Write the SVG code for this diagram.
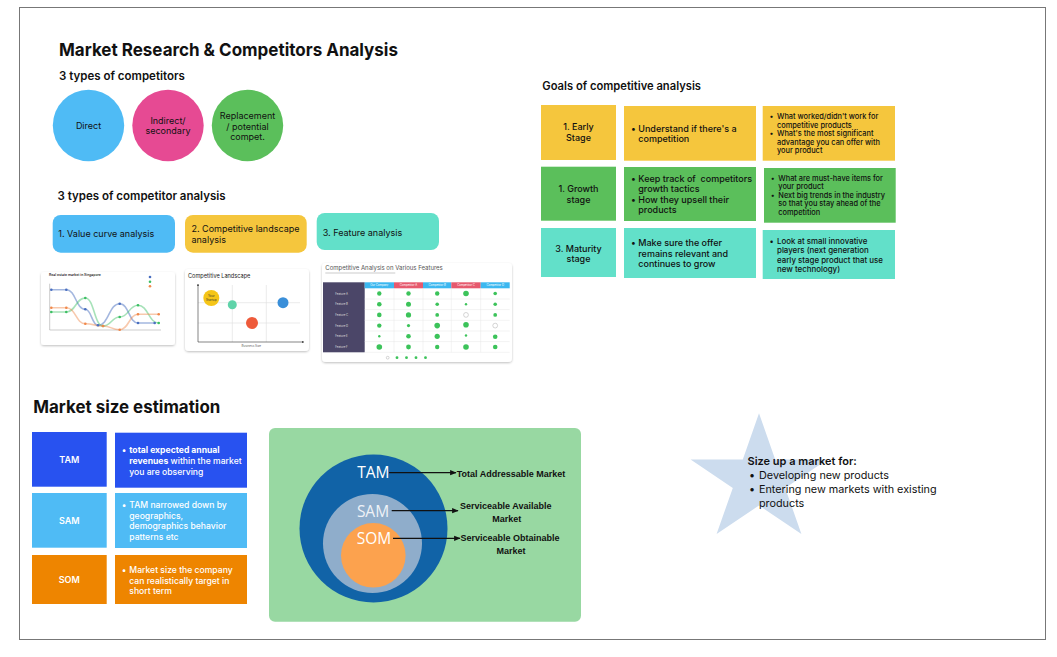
<svg xmlns="http://www.w3.org/2000/svg" width="1057" height="657" viewBox="0 0 1057 657">
<defs>
<style>
.t{font-family:Inter,"Liberation Sans",sans-serif;fill:#111}
.h1{font-size:18px;font-weight:700}
.h2{font-size:11.5px;font-weight:600}
.h3{font-size:17px;font-weight:700}
.c9{font-size:9px}
.g9{font-size:9px;font-weight:500}
.g7{font-size:7.4px;font-weight:500}
.w9{font-size:8.6px;fill:#fff;font-weight:500}
.ws{font-size:9px;fill:#fff;font-weight:600}
.mid{text-anchor:middle}
.lab{font-family:"Open Sans","Liberation Sans",sans-serif;font-size:15.5px;fill:#fff;text-anchor:middle}
.alab{font-family:"Liberation Sans",Arial,sans-serif;font-size:9px;font-weight:700;fill:#111}
.tiny{font-family:Inter,"Liberation Sans",sans-serif;font-size:3px;fill:#666}
.yel{fill:#F5C63D}.grn{fill:#5BBF5B}.teal{fill:#62E0C9}
.dot{fill:#3CC35A}
.thumb{fill:#fff;filter:url(#sh)}
.grid{stroke:#ddd;stroke-width:0.6}
.st{font-size:10.8px}
</style>
<filter id="sh" x="-10%" y="-10%" width="120%" height="130%">
<feDropShadow dx="0" dy="1" stdDeviation="1.2" flood-color="#000" flood-opacity="0.25"/>
</filter>
<marker id="ah" viewBox="0 0 10 10" refX="9" refY="5" markerWidth="5" markerHeight="5" orient="auto">
<path d="M0,1 L10,5 L0,9 z" fill="#111"/>
</marker>
<marker id="ax" viewBox="0 0 10 10" refX="9" refY="5" markerWidth="4" markerHeight="4" orient="auto">
<path d="M0,1 L10,5 L0,9 z" fill="#333"/>
</marker>
</defs>

<rect x="0" y="0" width="1057" height="657" fill="#fff"/>
<rect x="19.5" y="7.5" width="1026" height="632" fill="#fff" stroke="#777" stroke-width="1"/>

<g id="title">
<text class="t h1" x="59" y="56" textLength="339" lengthAdjust="spacingAndGlyphs">Market Research &amp; Competitors Analysis</text>
<text class="t h2" x="59" y="79.5">3 types of competitors</text>
</g>

<g id="competitors">
<g id="c-direct"><circle cx="88.5" cy="125.5" r="35.7" fill="#4FBBF5"/><text class="t c9 mid" x="88.5" y="129">Direct</text></g>
<g id="c-indirect"><circle cx="168" cy="125.5" r="35.7" fill="#E64A93"/><text class="t c9 mid" x="168" y="124">Indirect/</text><text class="t c9 mid" x="168" y="134.3">secondary</text></g>
<g id="c-replacement"><circle cx="247.5" cy="125.5" r="35.7" fill="#5BBF5B"/><text class="t c9 mid" x="247.5" y="119.3">Replacement</text><text class="t c9 mid" x="247.5" y="129.5">/ potential</text><text class="t c9 mid" x="247.5" y="140">compet.</text></g>
</g>

<g id="analysis">
<text class="t h2" x="57.5" y="199.5">3 types of competitor analysis</text>
<g id="a-value"><rect x="52.7" y="215" width="122.3" height="37.7" rx="8" fill="#4FBBF5"/><text class="t c9" x="58.3" y="236.5">1. Value curve analysis</text></g>
<g id="a-landscape"><rect x="185" y="215" width="121.7" height="37.7" rx="8" class="yel"/><text class="t c9" x="191.5" y="232">2. Competitive landscape</text><text class="t c9" x="191.5" y="243">analysis</text></g>
<g id="a-feature"><rect x="316.7" y="213" width="122.3" height="37" rx="8" class="teal"/><text class="t c9" x="322.7" y="235.5">3. Feature analysis</text></g>
</g>

<g id="thumb-value">
<rect class="thumb" x="41" y="272" width="134" height="73" rx="3"/>
<text class="tiny" x="49" y="276" style="font-weight:600;font-size:3.4px;fill:#333">Real estate market in Singapore</text>
<line x1="49.7" y1="283.7" x2="49.7" y2="330" stroke="#999" stroke-width="0.5"/>
<line x1="49.7" y1="330" x2="161" y2="330" stroke="#999" stroke-width="0.5"/>
<path d="M51.3,289.7 C58.8,289.7 58.8,289.7 66.3,289.7 C75.8,289.7 75.8,309.3 85.3,309.3 C91.7,309.3 91.7,325.3 98,325.3 C108.9,325.3 108.9,303.7 119.7,303.7 C128.9,303.7 128.9,323 138,323 C146.4,323 146.4,323 154.7,323" fill="none" stroke="#4A6FC0" stroke-opacity="0.5" stroke-width="1.6"/>
<path d="M51.3,312 C58.8,312 58.8,312 66.3,312 C75.8,312 75.8,298 85.3,298 C94.2,298 94.2,326 103,326 C111.4,326 111.4,317 119.7,317 C128.9,317 128.9,305.3 138,305.3 C148.4,305.3 148.4,323 158.7,323" fill="none" stroke="#3CBF63" stroke-opacity="0.45" stroke-width="1.6"/>
<path d="M51.3,307.7 C58.8,307.7 58.8,307.7 66.3,307.7 C75.8,307.7 75.8,323.7 85.3,323.7 C94.2,323.7 94.2,326 103,326 C111.4,326 111.4,329.7 119.7,329.7 C128.9,329.7 128.9,314.3 138,314.3 C148.4,314.3 148.4,314.3 158.7,314.3" fill="none" stroke="#F0884A" stroke-opacity="0.45" stroke-width="1.6"/>
<g fill="#4A6FC0"><circle cx="51.3" cy="289.7" r="1.3"/><circle cx="66.3" cy="289.7" r="1.3"/><circle cx="85.3" cy="309.3" r="1.3"/><circle cx="98" cy="325.3" r="1.3"/><circle cx="119.7" cy="303.7" r="1.3"/><circle cx="138" cy="323" r="1.3"/><circle cx="154.7" cy="323" r="1.3"/><circle cx="150" cy="277" r="1.3"/></g>
<g fill="#3CBF63"><circle cx="51.3" cy="312" r="1.3"/><circle cx="66.3" cy="312" r="1.3"/><circle cx="85.3" cy="298" r="1.3"/><circle cx="103" cy="326" r="1.3"/><circle cx="119.7" cy="317" r="1.3"/><circle cx="138" cy="305.3" r="1.3"/><circle cx="158.7" cy="323" r="1.3"/><circle cx="150" cy="281.7" r="1.3"/></g>
<g fill="#F0884A"><circle cx="51.3" cy="307.7" r="1.3"/><circle cx="66.3" cy="307.7" r="1.3"/><circle cx="85.3" cy="323.7" r="1.3"/><circle cx="103" cy="326" r="1.3"/><circle cx="119.7" cy="329.7" r="1.3"/><circle cx="138" cy="314.3" r="1.3"/><circle cx="158.7" cy="314.3" r="1.3"/><circle cx="150" cy="286.3" r="1.3"/></g>
</g>

<g id="thumb-landscape">
<rect class="thumb" x="185" y="269" width="124" height="82" rx="4"/>
<text class="t" x="188" y="278" style="font-size:5.6px;fill:#222">Competitive Landscape</text>
<line class="grid" x1="232.3" y1="285" x2="232.3" y2="342"/>
<line class="grid" x1="266.3" y1="285" x2="266.3" y2="342"/>
<line class="grid" x1="198" y1="302.7" x2="300" y2="302.7"/>
<line class="grid" x1="198" y1="323" x2="300" y2="323"/>
<line x1="198" y1="342" x2="198" y2="284" stroke="#333" stroke-width="0.6" marker-end="url(#ax)"/>
<line x1="198" y1="342" x2="304" y2="342" stroke="#333" stroke-width="0.6" marker-end="url(#ax)"/>
<circle cx="211.3" cy="298" r="8" fill="#F5C518"/>
<text class="tiny mid" x="211.3" y="297" style="fill:#333">Your</text><text class="tiny mid" x="211.3" y="300.5" style="fill:#333">Startup</text>
<circle cx="232.3" cy="304.7" r="4.5" fill="#5FD3A9"/>
<circle cx="283" cy="302.7" r="5.5" fill="#3A8FD9"/>
<circle cx="252" cy="323" r="6" fill="#EE5A3A"/>
<text class="tiny mid" x="251.3" y="347">Business Size</text>
</g>

<g id="thumb-feature">
<rect class="thumb" x="322" y="263" width="190" height="99" rx="4"/>
<text class="t" x="325.3" y="270" style="font-size:6px;fill:#555">Competitive Analysis on Various Features</text>
<rect x="325.3" y="272.5" width="70" height="1" fill="#ccc"/>
<rect x="323" y="282.3" width="41.7" height="70" fill="#4B4668"/>
<rect x="364.7" y="282.3" width="29.3" height="6" fill="#3CB8F0"/>
<rect x="394" y="282.3" width="29" height="6" fill="#E65A6E"/>
<rect x="423" y="282.3" width="28.3" height="6" fill="#3CB8F0"/>
<rect x="451.3" y="282.3" width="29.4" height="6" fill="#E65A6E"/>
<rect x="480.7" y="282.3" width="29" height="6" fill="#3CB8F0"/>
<g class="tiny mid" style="fill:#fff;font-size:2.8px">
<text x="379.3" y="286.3">Our Company</text><text x="408.5" y="286.3">Competitor A</text><text x="437.2" y="286.3">Competitor B</text><text x="466" y="286.3">Competitor C</text><text x="495.2" y="286.3">Competitor D</text>
</g>
<g stroke="#e6e6e6" stroke-width="0.5">
<line x1="364.7" y1="299" x2="509.7" y2="299"/><line x1="364.7" y1="309.6" x2="509.7" y2="309.6"/><line x1="364.7" y1="320.3" x2="509.7" y2="320.3"/><line x1="364.7" y1="331" x2="509.7" y2="331"/><line x1="364.7" y1="341.6" x2="509.7" y2="341.6"/><line x1="364.7" y1="352.3" x2="509.7" y2="352.3"/>
<line x1="394" y1="288.3" x2="394" y2="352.3"/><line x1="423" y1="288.3" x2="423" y2="352.3"/><line x1="451.3" y1="288.3" x2="451.3" y2="352.3"/><line x1="480.7" y1="288.3" x2="480.7" y2="352.3"/>
</g>
<g class="tiny" style="fill:#ddd;font-size:2.8px">
<text x="335.3" y="294.5">Feature A</text><text x="335.3" y="305.2">Feature B</text><text x="335.3" y="315.9">Feature C</text><text x="335.3" y="326.6">Feature D</text><text x="335.3" y="337.3">Feature E</text><text x="335.3" y="348">Feature F</text>
</g>
<g class="dot">
<circle cx="379.3" cy="293.5" r="2.2"/><circle cx="408.5" cy="293.5" r="2.2"/><circle cx="437.2" cy="293.5" r="2.2"/><circle cx="466" cy="293.5" r="2.8"/><circle cx="495.2" cy="293.5" r="1.8"/>
<circle cx="379.3" cy="304.2" r="2.3"/><circle cx="408.5" cy="304.2" r="2.5"/><circle cx="437.2" cy="304.2" r="1.8"/><circle cx="466" cy="304.2" r="1.2"/><circle cx="495.2" cy="304.2" r="1.8"/>
<circle cx="379.3" cy="314.9" r="2.3"/><circle cx="408.5" cy="314.9" r="2.6"/><circle cx="437.2" cy="314.9" r="1.9"/><circle cx="495.2" cy="314.9" r="1.9"/>
<circle cx="379.3" cy="325.6" r="2.2"/><circle cx="408.5" cy="325.6" r="1.6"/><circle cx="437.2" cy="325.6" r="2.8"/><circle cx="466" cy="324.8" r="2.8"/>
<circle cx="379.3" cy="336.3" r="1.2"/><circle cx="408.5" cy="336.3" r="2.3"/><circle cx="437.2" cy="336.3" r="2.6"/><circle cx="466" cy="335.5" r="1.2"/><circle cx="495.2" cy="336.8" r="2.3"/>
<circle cx="379.3" cy="347" r="2.8"/><circle cx="408.5" cy="347" r="2.4"/><circle cx="437.2" cy="347" r="2.2"/><circle cx="466" cy="347" r="2.8"/><circle cx="495.2" cy="347" r="2.3"/>
</g>
<g fill="none" stroke="#aaa" stroke-width="0.5"><circle cx="466" cy="314.9" r="2.4"/><circle cx="495.2" cy="325.6" r="2.4"/><circle cx="387.7" cy="357.7" r="1.4"/></g>
<g class="dot"><circle cx="397" cy="357.7" r="1.4"/><circle cx="406.5" cy="357.7" r="1.4"/><circle cx="416" cy="357.7" r="1.4"/><circle cx="425.5" cy="357.7" r="1.4"/></g>
</g>

<g id="goals">
<text class="t h2" x="542.3" y="90" style="font-size:11.2px">Goals of competitive analysis</text>
<g id="r1c1"><rect x="541" y="105" width="75" height="55" class="yel"/><text class="t g9 mid" x="578.5" y="130">1. Early</text><text class="t g9 mid" x="578.5" y="141">Stage</text></g>
<g id="r1c2"><rect x="624" y="106" width="132" height="54.7" class="yel"/><text class="t g9" x="631" y="131.5">•</text><text class="t g9" x="638.3" y="131.5">Understand if there's a</text><text class="t g9" x="638.3" y="142">competition</text></g>
<g id="r1c3"><rect x="762.7" y="106" width="132.3" height="54.7" class="yel"/>
<text class="t g7" x="769.5" y="119">•</text><text class="t g7" x="777" y="119">What worked/didn't work for</text><text class="t g7" x="777" y="128">competitive products</text>
<text class="t g7" x="769.5" y="136">•</text><text class="t g7" x="777" y="136">What's the most significant</text><text class="t g7" x="777" y="145">advantage you can offer with</text><text class="t g7" x="777" y="153.4">your product</text></g>

<g id="r2c1"><rect x="541" y="166.7" width="75" height="54" class="grn"/><text class="t g9 mid" x="578.5" y="192">1. Growth</text><text class="t g9 mid" x="578.5" y="203">stage</text></g>
<g id="r2c2"><rect x="624" y="167" width="132" height="54" class="grn"/>
<text class="t g9" x="631" y="182">•</text><text class="t g9" x="638.3" y="182" xml:space="preserve">Keep track of  competitors</text><text class="t g9" x="638.3" y="192.3">growth tactics</text>
<text class="t g9" x="631" y="203">•</text><text class="t g9" x="638.3" y="203">How they upsell their</text><text class="t g9" x="638.3" y="213.3">products</text></g>
<g id="r2c3"><rect x="764" y="168" width="131.7" height="54.7" class="grn"/>
<text class="t g7" x="770.7" y="181">•</text><text class="t g7" x="778.3" y="181">What are must-have items for</text><text class="t g7" x="778.3" y="189.4">your product</text>
<text class="t g7" x="770.7" y="198.4">•</text><text class="t g7" x="778.3" y="198.4">Next big trends in the industry</text><text class="t g7" x="778.3" y="206.4">so that you stay ahead of the</text><text class="t g7" x="778.3" y="215.4">competition</text></g>

<g id="r3c1"><rect x="541" y="228" width="75" height="49" class="teal"/><text class="t g9 mid" x="578.5" y="251.5">3. Maturity</text><text class="t g9 mid" x="578.5" y="262">stage</text></g>
<g id="r3c2"><rect x="624" y="228" width="132" height="50" class="teal"/>
<text class="t g9" x="631" y="246">•</text><text class="t g9" x="638.3" y="246">Make sure the offer</text><text class="t g9" x="638.3" y="256.7">remains relevant and</text><text class="t g9" x="638.3" y="266.7">continues to grow</text></g>
<g id="r3c3"><rect x="762.7" y="230" width="132.3" height="49" class="teal"/>
<text class="t g7" x="769.5" y="244.3" style="font-size:7.9px">•</text><text class="t g7" x="777" y="244.3" style="font-size:7.9px">Look at small innovative</text><text class="t g7" x="777" y="253.3" style="font-size:7.9px">players (next generation</text><text class="t g7" x="777" y="263.3" style="font-size:7.9px">early stage product that use</text><text class="t g7" x="777" y="272.3" style="font-size:7.9px">new technology)</text></g>
</g>

<g id="market-size">
<text class="t h3" x="33.3" y="413.3" textLength="187" lengthAdjust="spacingAndGlyphs">Market size estimation</text>
<g id="tam"><rect x="32" y="432" width="74.7" height="54.7" fill="#2852F0"/><text class="t ws mid" x="69.3" y="463">TAM</text></g>
<g id="tam-desc"><rect x="115" y="432.7" width="132" height="55" fill="#2852F0"/>
<text class="t w9" x="121.7" y="453">•</text><text class="t w9" x="129.3" y="453"><tspan font-weight="700">total expected annual</tspan></text>
<text class="t w9" x="129.3" y="464"><tspan font-weight="700">revenues</tspan> within the market</text><text class="t w9" x="129.3" y="474.7">you are observing</text></g>
<g id="sam"><rect x="32" y="493" width="74.7" height="54.7" fill="#4FBBF5"/><text class="t ws mid" x="69.3" y="523.5">SAM</text></g>
<g id="sam-desc"><rect x="115" y="493" width="132" height="55" fill="#4FBBF5"/>
<text class="t w9" x="121.7" y="508">•</text><text class="t w9" x="129.3" y="508">TAM narrowed down by</text><text class="t w9" x="129.3" y="518.7">geographics,</text><text class="t w9" x="129.3" y="529">demographics behavior</text><text class="t w9" x="129.3" y="539.7">patterns etc</text></g>
<g id="som"><rect x="32" y="555" width="74.7" height="49" fill="#EE8500"/><text class="t ws mid" x="69.3" y="582.5">SOM</text></g>
<g id="som-desc"><rect x="115" y="555" width="132" height="49" fill="#EE8500"/>
<text class="t w9" x="121.7" y="573">•</text><text class="t w9" x="129.3" y="573">Market size the company</text><text class="t w9" x="129.3" y="583.7">can realistically target in</text><text class="t w9" x="129.3" y="594">short term</text></g>
</g>

<g id="tam-sam-som">
<rect x="269" y="428" width="312" height="193.7" rx="6" fill="#98D8A2"/>
<circle cx="373.5" cy="528.5" r="74" fill="#1163A7"/>
<circle cx="372.5" cy="543.5" r="49.5" fill="#8FADCB"/>
<circle cx="373.3" cy="555.3" r="32.3" fill="#FCA24E"/>
<text class="lab" x="373.3" y="478.3">TAM</text>
<text class="lab" x="373" y="516.5" style="fill:#EEF2F7">SAM</text>
<text class="lab" x="374" y="543.8">SOM</text>
<text class="alab" x="456.7" y="476.7">Total Addressable Market</text>
<text class="alab" x="505.8" y="508.7" text-anchor="middle">Serviceable Available</text>
<text class="alab" x="506.7" y="521.7" text-anchor="middle">Market</text>
<text class="alab" x="510" y="541.3" text-anchor="middle">Serviceable Obtainable</text>
<text class="alab" x="511" y="554.3" text-anchor="middle">Market</text>
</g>

<g id="connectors" stroke="#111" stroke-width="1.3" fill="none">
<line x1="389" y1="472.7" x2="456" y2="472.7" marker-end="url(#ah)"/>
<line x1="391.7" y1="510.7" x2="458" y2="510.7" marker-end="url(#ah)"/>
<line x1="393" y1="538.3" x2="460" y2="538.3" marker-end="url(#ah)"/>
</g>

<g id="star-note">
<polygon points="759,413.3 775.2,459.4 827.4,459.4 785.2,487.9 801.4,534 759,505.5 716.6,534 732.8,487.9 690.6,459.4 742.8,459.4" fill="#CCDCEE"/>
<text class="t" x="747.5" y="465" style="font-size:11px;font-weight:600">Size up a market for:</text>
<text class="t st" x="749" y="479">•</text><text class="t st" x="759" y="479">Developing new products</text>
<text class="t st" x="749" y="493">•</text><text class="t st" x="759" y="493">Entering new markets with existing</text>
<text class="t st" x="759" y="506.5">products</text>
</g>
</svg>
